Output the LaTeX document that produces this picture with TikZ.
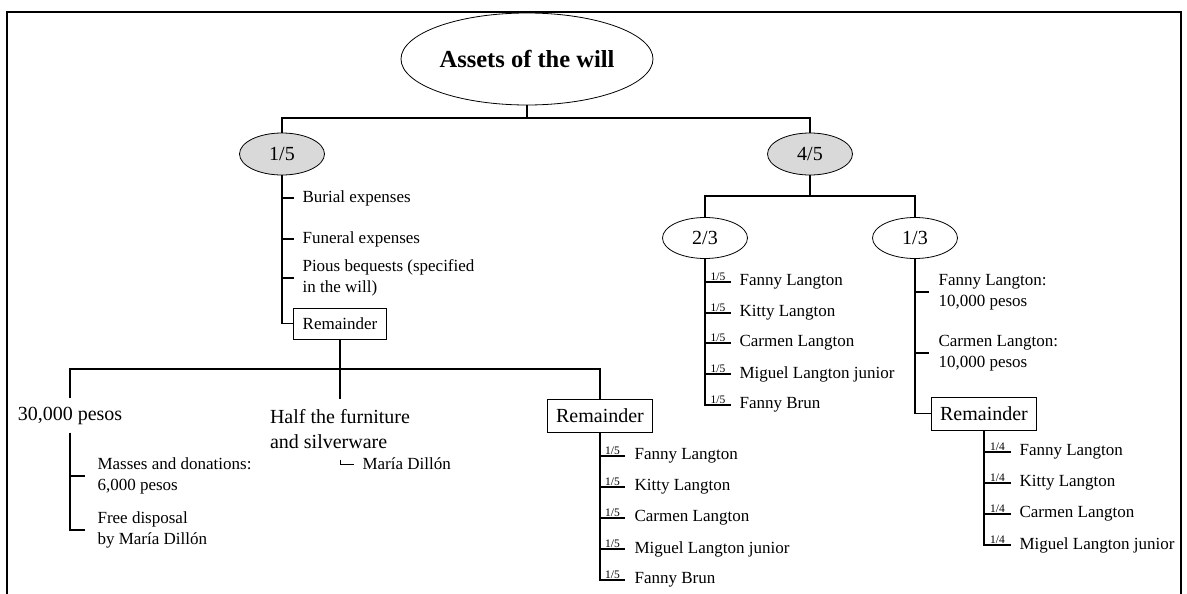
\documentclass[tikz,border=0pt]{standalone}
\usepackage{fontspec}
\setmainfont{Liberation Serif}
\usepackage{tikz}
\tikzstyle{root}=[ellipse,draw,line width=0.8pt,inner sep=0pt,minimum width=252pt,
minimum height=92pt,font=\bfseries\fontsize{24.5}{28}\selectfont]
\tikzstyle{share}=[ellipse,draw,line width=0.8pt,fill=black!15,inner sep=0pt,
minimum width=85pt,minimum height=42pt,font=\fontsize{20}{24}\selectfont]
\tikzstyle{part}=[ellipse,draw,line width=0.8pt,inner sep=0pt,
minimum width=85pt,minimum height=41pt,font=\fontsize{20}{24}\selectfont]
\tikzstyle{rest}=[rectangle,draw,line width=0.9pt,inner xsep=9pt,inner ysep=0pt,
minimum height=33pt,font=\fontsize{20}{24}\selectfont]
\tikzstyle{srest}=[rest,minimum height=31pt,font=\fontsize{17}{20}\selectfont]
\tikzstyle{item}=[anchor=west,inner xsep=8pt,inner ysep=0pt,align=left,
font=\fontsize{17}{20.5}\selectfont]
\tikzstyle{big}=[align=left,inner xsep=0pt,font=\fontsize{20}{25}\selectfont]
\tikzstyle{frac}=[inner sep=1pt,font=\fontsize{11.5}{12}\selectfont]
\usetikzlibrary{shapes,positioning}

\begin{document}
\begin{tikzpicture}[x=1pt,y=-1pt,line width=1.1pt]
            \useasboundingbox (0,0) rectangle (1187,594);
            \draw[line width=1.8pt] (7,594) |- (1181,12) -- (1181,594);

            % ASSETS PART

            \node[root] (e0) at (527,59) {Assets of the will};
            \node[share] (e15) at (282,154) {1/5};
            \node[share, right of=e15, node distance=528pt] (e45) {4/5};
            \coordinate (h1) at (527,118);

            \draw (e0.south) -- (h1);
            \draw (e15.north) |- (h1) -| (e45.north);

            % ONE FIFTH PART

            \node[item] (b1) at (294,198) {Burial expenses};
            \node[item, below=41pt of b1.west, anchor=west] (b2) {Funeral expenses};
            \node[item, below=39pt of b2.west, anchor=west] (b3) {Pious bequests (specified\\in the will)};
            \node[srest] (r1) at (340,323.5) {Remainder};

            \draw (e15.south) |- (b1.west);
            \draw (e15.south) |- (b2.west);
            \draw (e15.south) |- (b3.west);
            \draw (e15.south) |- (r1.west);

            % REMAINDER OF THE FIFTH

            \node[big, minimum height=33pt, inner ysep=0pt] (p30) at (70,415.5) {30,000 pesos};
            \node[big, inner ysep=10pt] (hf) at (340,429.5) {Half the furniture\\and silverware};
            \node[rest] (r2) at (600,415.5) {Remainder};
            \coordinate (h2) at (340,369);

            \draw (r1.south) -- (hf.north);
            \draw (p30.north) |- (h2) -| (r2.north);

            \node[item, inner xsep=12pt] (m1) at (85,476) {Masses and donations:\\6,000 pesos};
            \node[item, inner xsep=12pt, below=54pt of m1.west, anchor=west] (m2) {Free disposal\\by María Dillón};
            \node[item] (md) at (354,464) {María Dillón};

            \draw (p30.south) |- (m1.west);
            \draw (p30.south) |- (m2.west);
            \draw[line width=0.8pt] (hf.south) |- (md.west);

            \node[item, inner xsep=9pt] (k1) at (625,456) {Fanny Langton};
            \node[item, inner xsep=9pt, below=31pt of k1.west, anchor=west] (k2) {Kitty Langton};
            \node[item, inner xsep=9pt, below=31pt of k2.west, anchor=west] (k3) {Carmen Langton};
            \node[item, inner xsep=9pt, below=31pt of k3.west, anchor=west] (k4) {Miguel Langton junior};
            \node[item, inner xsep=9pt, below=31pt of k4.west, anchor=west] (k5) {Fanny Brun};

            \draw (r2.south) |- node[frac, pos=0.75, above] {1/5} (k1.west);
            \draw (r2.south) |- node[frac, pos=0.75, above] {1/5} (k2.west);
            \draw (r2.south) |- node[frac, pos=0.75, above] {1/5} (k3.west);
            \draw (r2.south) |- node[frac, pos=0.75, above] {1/5} (k4.west);
            \draw (r2.south) |- node[frac, pos=0.75, above] {1/5} (k5.west);

            % FOUR FIFTHS PART

            \node[part] (e23) at (705,238) {2/3};
            \node[part, right of=e23, node distance=210pt] (e13) {1/3};
            \coordinate (h3) at (810,196);

            \draw (e45.south) -- (h3);
            \draw (e23.north) |- (h3) -| (e13.north);

            \node[item] (f1) at (731,282) {Fanny Langton};
            \node[item, below=31pt of f1.west, anchor=west] (f2) {Kitty Langton};
            \node[item, below=30pt of f2.west, anchor=west] (f3) {Carmen Langton};
            \node[item, below=31pt of f3.west, anchor=west] (f4) {Miguel Langton junior};
            \node[item, below=31pt of f4.west, anchor=west] (f5) {Fanny Brun};

            \draw (e23.south) |- node[frac, pos=0.75, above] {1/5} (f1.west);
            \draw (e23.south) |- node[frac, pos=0.75, above] {1/5} (f2.west);
            \draw (e23.south) |- node[frac, pos=0.75, above] {1/5} (f3.west);
            \draw (e23.south) |- node[frac, pos=0.75, above] {1/5} (f4.west);
            \draw (e23.south) |- node[frac, pos=0.75, above] {1/5} (f5.west);

            % ONE THIRD PART

            \node[item, inner xsep=9pt] (g1) at (929,292) {Fanny Langton:\\10,000 pesos};
            \node[item, inner xsep=9pt, below=61pt of g1.west, anchor=west] (g2) {Carmen Langton:\\10,000 pesos};
            \node[rest] (r3) at (984,413.5) {Remainder};

            \draw (e13.south) |- (g1.west);
            \draw (e13.south) |- (g2.west);
            \draw (e13.south) |- (r3.west);

            \node[item] (q1) at (1011,452) {Fanny Langton};
            \node[item, below=31pt of q1.west, anchor=west] (q2) {Kitty Langton};
            \node[item, below=31pt of q2.west, anchor=west] (q3) {Carmen Langton};
            \node[item, below=31pt of q3.west, anchor=west] (q4) {Miguel Langton junior};

            \draw (r3.south) |- node[frac, pos=0.75, above] {1/4} (q1.west);
            \draw (r3.south) |- node[frac, pos=0.75, above] {1/4} (q2.west);
            \draw (r3.south) |- node[frac, pos=0.75, above] {1/4} (q3.west);
            \draw (r3.south) |- node[frac, pos=0.75, above] {1/4} (q4.west);

\end{tikzpicture}
\end{document}
